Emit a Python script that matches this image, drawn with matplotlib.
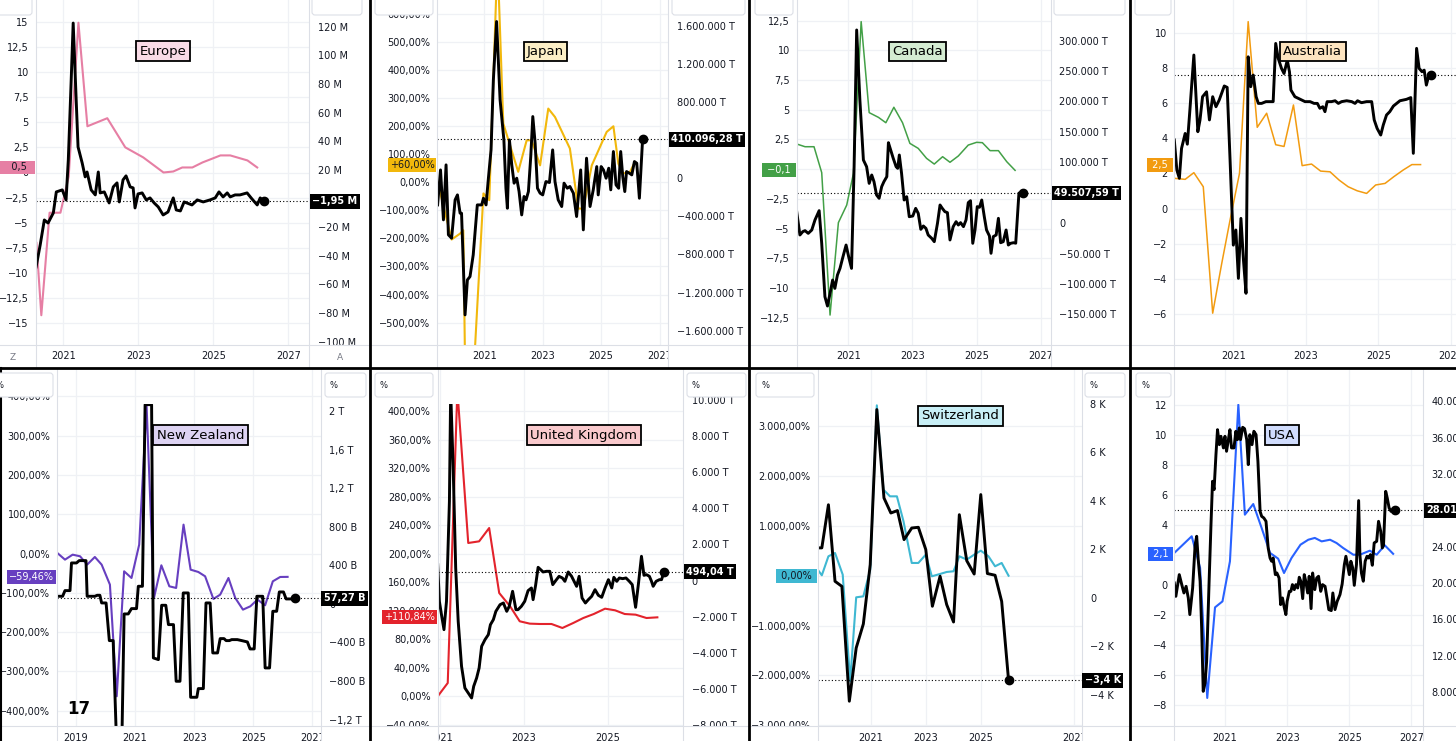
import numpy as np
import matplotlib.pyplot as plt
from matplotlib.lines import Line2D
from matplotlib.patches import FancyBboxPatch, Rectangle
from matplotlib.transforms import Bbox, TransformedBbox

# ---------------- data ----------------
# Europe: coloured = % (left), black = M (right)
eu_pct_t = [2020.28, 2020.41, 2020.63, 2020.92, 2021.14, 2021.40, 2021.64, 2022.17, 2022.65, 2023.13,
            2023.67, 2023.93, 2024.17, 2024.44, 2024.71, 2025.19, 2025.45, 2025.91, 2026.17]
eu_pct = [-7.0, -14.2, -4.0, -4.0, -0.4, 14.9, 4.6, 5.4, 2.5, 1.5,
          0.0, 0.1, 0.5, 0.5, 1.0, 1.7, 1.7, 1.2, 0.5]
eu_lvl_t = [2020.27, 2020.38, 2020.49, 2020.59, 2020.73, 2020.81, 2020.97, 2021.07, 2021.13, 2021.21,
            2021.26, 2021.34, 2021.39, 2021.50, 2021.58, 2021.63, 2021.74, 2021.85, 2021.93, 2021.98,
            2022.09, 2022.22, 2022.33, 2022.43, 2022.49, 2022.59, 2022.67, 2022.78, 2022.86, 2022.91,
            2022.99, 2023.10, 2023.21, 2023.31, 2023.42, 2023.53, 2023.66, 2023.79, 2023.93, 2024.01,
            2024.12, 2024.22, 2024.43, 2024.57, 2024.73, 2024.91, 2025.05, 2025.15, 2025.26, 2025.37,
            2025.45, 2025.58, 2025.71, 2025.90, 2026.03, 2026.17, 2026.25, 2026.35]
eu_lvl = [-47.8, -32.4, -15.0, -17.1, -10.1, 4.6, 6.0, -1.0, 26.9, 84.9,
          122.5, 68.8, 36.0, 24.8, 15.1, 18.5, 6.0, 2.5, 18.5, 3.9,
          4.6, -3.1, 8.1, 10.9, -2.4, 13.0, 15.8, 8.1, 7.4, -6.6,
          3.2, 3.9, -1.0, 0.4, -3.1, -5.9, -11.5, -9.4, 0.4, -8.0,
          -8.7, -2.4, -4.5, -1.0, -2.4, -1.0, 0.4, 4.6, 1.1, 3.9,
          1.1, 2.5, 2.5, 3.9, -0.3, -4.5, 0.4, -1.95]

# Japan: % (left), thousand T (right)
jp_pct_t = [2019.40, 2019.88, 2020.17, 2020.28, 2020.36, 2020.57, 2020.97, 2021.17, 2021.45, 2021.65,
            2022.16, 2022.45, 2022.62, 2022.91, 2023.19, 2023.42, 2023.93, 2024.22, 2024.39, 2024.68,
            2025.19, 2025.42, 2025.59, 2025.76, 2025.99, 2026.10]
jp_pct = [1, -204, -183, -171, -800, -800, -40, -64, 800, 209,
          37, 149, 149, 60, 262, 232, 120, -94, -94, 60,
          179, 199, 66, 31, 37, 60]
jp_lvl_t = [2019.40, 2019.50, 2019.60, 2019.69, 2019.77, 2019.88, 2020.00, 2020.08, 2020.17, 2020.22,
            2020.34, 2020.42, 2020.51, 2020.62, 2020.76, 2020.91, 2020.97, 2021.06, 2021.14, 2021.23,
            2021.31, 2021.42, 2021.54, 2021.67, 2021.74, 2021.79, 2021.86, 2021.94, 2022.02, 2022.11,
            2022.19, 2022.28, 2022.36, 2022.43, 2022.51, 2022.59, 2022.66, 2022.74, 2022.82, 2022.91,
            2023.00, 2023.11, 2023.23, 2023.34, 2023.42, 2023.53, 2023.65, 2023.73, 2023.84, 2023.93,
            2024.05, 2024.16, 2024.30, 2024.39, 2024.50, 2024.62, 2024.73, 2024.85, 2024.90, 2025.00,
            2025.08, 2025.17, 2025.26, 2025.33, 2025.42, 2025.51, 2025.60, 2025.67, 2025.74, 2025.81,
            2025.87, 2025.97, 2026.05, 2026.14, 2026.22, 2026.31, 2026.42]
jp_lvl = [-280, 87, -437, 140, -594, -629, -227, -175, -367, -367,
          -1434, -1067, -1032, -804, -280, -280, -210, -280, 0, 297,
          1032, 1644, 822, 402, -105, -315, 402, 140, -52, 0,
          -140, -385, -192, -227, -140, 227, 647, 367, -105, -157,
          -175, -35, -45, 297, -35, -227, -297, -52, -105, -87,
          -157, -402, 87, -542, 210, -297, -122, 122, -175, 122,
          87, 0, 105, -122, 280, -70, -105, 280, 17, -140,
          70, 52, 35, 175, 157, -210, 410.09628]

# Canada: % (left), thousand T (right)
ca_pct_t = [2019.39, 2019.65, 2019.93, 2020.17, 2020.43, 2020.69, 2020.95, 2021.16, 2021.40, 2021.65,
            2021.94, 2022.17, 2022.42, 2022.69, 2022.92, 2023.18, 2023.44, 2023.68, 2023.94, 2024.17,
            2024.43, 2024.74, 2025.00, 2025.18, 2025.42, 2025.68, 2025.94, 2026.20]
ca_pct = [2.12, 1.89, 1.89, -0.29, -12.28, -4.50, -3.02, -0.35, 12.42, 4.76,
          4.36, 3.91, 5.21, 3.91, 2.17, 1.75, 0.91, 0.43, 1.05, 0.58,
          1.11, 2.03, 2.26, 2.23, 1.56, 1.56, 0.63, -0.1]
ca_lvl_t = [2019.39, 2019.49, 2019.58, 2019.65, 2019.75, 2019.86, 2019.96, 2020.09, 2020.17, 2020.27,
            2020.35, 2020.43, 2020.51, 2020.58, 2020.66, 2020.74, 2020.82, 2020.93, 2021.01, 2021.10,
            2021.18, 2021.26, 2021.36, 2021.47, 2021.57, 2021.65, 2021.73, 2021.80, 2021.88, 2021.96,
            2022.04, 2022.11, 2022.20, 2022.25, 2022.32, 2022.40, 2022.49, 2022.54, 2022.59, 2022.66,
            2022.74, 2022.82, 2022.90, 2023.01, 2023.10, 2023.18, 2023.26, 2023.34, 2023.42, 2023.49,
            2023.60, 2023.68, 2023.78, 2023.86, 2023.93, 2024.01, 2024.09, 2024.17, 2024.27, 2024.36,
            2024.43, 2024.50, 2024.59, 2024.67, 2024.74, 2024.81, 2024.88, 2024.95, 2025.02, 2025.09,
            2025.16, 2025.24, 2025.31, 2025.40, 2025.45, 2025.52, 2025.61, 2025.68, 2025.75, 2025.83,
            2025.92, 2025.99, 2026.06, 2026.15, 2026.22, 2026.32, 2026.44]
ca_lvl = [18.9, -19.5, -14.0, -12.4, -16.8, -11.3, 5.2, 20.5, -33.3, -121.0,
          -136.3, -115.5, -93.6, -107.3, -85.4, -74.4, -57.9, -36.0, -55.2, -74.4,
          92.8, 317.6, 202.5, 103.8, 92.8, 65.4, 79.1, 68.2, 46.3, 40.8,
          60.0, 68.2, 76.4, 132.3, 120.3, 106.6, 92.8, 90.1, 112.0, 81.9,
          38.0, 43.5, 10.6, 11.7, 24.3, 16.1, -10.2, -4.7, -8.6, -19.5,
          -25.0, -30.5, -0.3, 29.8, 24.3, 18.9, 17.2, -27.7, -5.8, 2.4,
          -3.1, 0.8, -5.8, 5.2, 33.7, 36.9, -33.2, -11.3, 27.1, 26.0,
          38.0, 10.6, -11.3, -21.1, -49.6, -22.2, -19.5, 7.9, -32.2, -30.5,
          -11.3, -36.0, -33.2, -32.2, -33.0, 49.5, 49.50759]

# Australia: both series on the same scale
au_pct_t = [2019.37, 2019.67, 2019.91, 2020.17, 2020.43, 2020.68, 2020.91, 2021.17, 2021.41, 2021.66,
            2021.92, 2022.17, 2022.40, 2022.66, 2022.90, 2023.16, 2023.41, 2023.67, 2023.92, 2024.17,
            2024.42, 2024.68, 2024.93, 2025.19, 2025.43, 2025.69, 2025.93, 2026.17]
au_pct = [1.72, 1.66, 2.04, 1.24, -5.95, -3.12, -0.65, 2.0, 10.63, 4.62,
          5.42, 3.63, 3.53, 5.89, 2.44, 2.53, 2.13, 2.09, 1.62, 1.24,
          1.01, 0.86, 1.34, 1.43, 1.81, 2.19, 2.5, 2.5]
au_lvl_t = [2019.37, 2019.44, 2019.51, 2019.57, 2019.67, 2019.73, 2019.80, 2019.91, 2020.02, 2020.08,
            2020.15, 2020.26, 2020.34, 2020.43, 2020.52, 2020.61, 2020.75, 2020.83, 2020.91, 2021.00,
            2021.07, 2021.14, 2021.21, 2021.28, 2021.35, 2021.41, 2021.48, 2021.55, 2021.63, 2021.69,
            2021.78, 2021.90, 2022.10, 2022.17, 2022.24, 2022.33, 2022.40, 2022.49, 2022.55, 2022.59,
            2022.70, 2022.79, 2022.89, 2022.98, 2023.12, 2023.23, 2023.32, 2023.39, 2023.47, 2023.53,
            2023.59, 2023.71, 2023.81, 2023.90, 2023.99, 2024.13, 2024.27, 2024.36, 2024.43, 2024.54,
            2024.68, 2024.82, 2024.89, 2024.97, 2025.07, 2025.14, 2025.23, 2025.32, 2025.42, 2025.51,
            2025.60, 2025.69, 2025.78, 2025.90, 2025.97, 2026.06, 2026.13, 2026.21, 2026.27, 2026.33,
            2026.40, 2026.47]
au_lvl = [3.90, 2.19, 1.72, 3.42, 4.27, 3.66, 5.59, 8.73, 4.37, 5.04,
          6.36, 6.64, 5.04, 6.36, 5.79, 6.17, 6.97, 6.89, 2.76, -2.08,
          -1.22, -3.97, -0.56, -2.93, -4.82, 8.63, 6.93, 7.59, 6.36, 5.98,
          5.98, 6.08, 6.08, 9.39, 8.54, 7.97, 7.68, 8.44, 7.78, 6.74,
          6.36, 6.27, 6.17, 6.08, 6.08, 5.98, 5.98, 5.70, 5.79, 5.51,
          6.08, 6.08, 6.13, 5.98, 6.08, 6.13, 6.08, 5.98, 6.13, 6.02,
          6.08, 6.08, 5.04, 4.56, 4.18, 4.75, 5.32, 5.51, 5.83, 5.98,
          6.13, 6.17, 6.21, 6.31, 3.14, 9.11, 7.97, 7.78, 7.87, 7.02,
          7.59, 7.57]

# New Zealand: % (left), B (right)
nz_pct_t = [2018.37, 2018.63, 2018.89, 2019.14, 2019.38, 2019.64, 2019.87, 2020.15, 2020.38, 2020.63,
            2020.88, 2021.14, 2021.39, 2021.64, 2021.89, 2022.16, 2022.39, 2022.64, 2022.88, 2023.14,
            2023.37, 2023.65, 2023.88, 2024.16, 2024.39, 2024.65, 2024.90, 2025.14, 2025.40, 2025.66,
            2025.91, 2026.16]
nz_pct = [1.4, -15.6, -2.9, -7.1, -28.3, -8.8, -28.3, -79.2, -363.5, -45.3,
          -62.3, 22.6, 377.1, -113.2, -30.0, -83.5, -87.7, 73.5, -41.1, -47.0,
          -58.0, -115.7, -104.7, -62.3, -113.2, -142.9, -134.4, -117.4, -131.8, -70.8,
          -59.7, -59.46]
nz_lvl_t = [2018.37, 2018.55, 2018.63, 2018.80, 2018.85, 2019.02, 2019.11, 2019.34, 2019.38, 2019.64,
            2019.72, 2019.81, 2019.87, 2020.02, 2020.13, 2020.26, 2020.38, 2020.55, 2020.63, 2020.77,
            2020.88, 2021.05, 2021.11, 2021.25, 2021.34, 2021.56, 2021.62, 2021.79, 2021.90, 2022.04,
            2022.13, 2022.30, 2022.39, 2022.52, 2022.63, 2022.80, 2022.88, 2023.09, 2023.14, 2023.31,
            2023.40, 2023.54, 2023.63, 2023.79, 2023.88, 2024.01, 2024.08, 2024.19, 2024.27, 2024.46,
            2024.61, 2024.80, 2024.89, 2025.03, 2025.12, 2025.32, 2025.40, 2025.55, 2025.66, 2025.79,
            2025.88, 2026.02, 2026.11, 2026.36, 2026.42]
nz_lvl = [79.6, 79.6, 138.4, 138.4, 425.5, 425.5, 449.7, 449.7, 79.6, 79.6,
          89.9, 89.9, 10.4, 10.4, -380.5, -380.5, -1500, -1500, -103.8, -103.8,
          -48.4, -48.4, 183.4, 183.4, 2068.8, 2068.8, -560.4, -577.7, -13.8, -13.8,
          -214.5, -214.5, -802.6, -802.6, 114.2, 114.2, -968.7, -968.7, -878.7, -878.7,
          10.4, 10.4, -508.5, -508.5, -359.8, -359.8, -380.5, -380.5, -370.2, -370.2,
          -380.5, -394.4, -467.0, -467.0, 79.6, 79.6, -664.2, -664.2, -76.1, -76.1,
          124.5, 124.5, 51.9, 51.9, 57.27]

# United Kingdom: % (left), T (right)
uk_pct_t = [2020.94, 2021.18, 2021.41, 2021.67, 2021.93, 2022.17, 2022.41, 2022.67, 2022.90, 2023.14,
            2023.38, 2023.66, 2023.92, 2024.18, 2024.42, 2024.67, 2024.94, 2025.18, 2025.41, 2025.67,
            2025.93, 2026.19]
uk_pct = [0.0, 18.7, 430.0, 215.2, 217.5, 236.2, 145.0, 126.3, 105.3, 102.0,
          101.5, 101.5, 95.9, 102.9, 109.9, 115.5, 123.0, 120.7, 115.5, 114.6,
          109.9, 110.84]
uk_lvl_t = [2020.94, 2020.98, 2021.03, 2021.09, 2021.15, 2021.22, 2021.25, 2021.31, 2021.37, 2021.43,
            2021.51, 2021.59, 2021.67, 2021.75, 2021.80, 2021.87, 2021.93, 2021.99, 2022.07, 2022.15,
            2022.20, 2022.27, 2022.33, 2022.43, 2022.51, 2022.59, 2022.65, 2022.73, 2022.81, 2022.86,
            2022.94, 2023.02, 2023.10, 2023.18, 2023.22, 2023.28, 2023.34, 2023.40, 2023.46, 2023.54,
            2023.62, 2023.69, 2023.76, 2023.84, 2023.92, 2023.98, 2024.06, 2024.14, 2024.20, 2024.26,
            2024.32, 2024.39, 2024.47, 2024.54, 2024.62, 2024.70, 2024.78, 2024.86, 2024.94, 2025.02,
            2025.10, 2025.15, 2025.22, 2025.28, 2025.36, 2025.44, 2025.52, 2025.59, 2025.67, 2025.74,
            2025.81, 2025.87, 2025.93, 2026.00, 2026.05, 2026.09, 2026.16, 2026.24, 2026.29, 2026.35]
uk_lvl = [880, -1154, -1894, -2726, -1154, 4394, 10500, 6244, 695, -2264,
          -4761, -5963, -6241, -6518, -5871, -5409, -4854, -3652, -3282, -3004,
          -2450, -2172, -1710, -1340, -1247, -1710, -1432, -599, -1617, -1617,
          -1432, -1154, -562, -414, -1062, -266, 733, 604, 474, 511,
          511, -229, -7, 233, 141, -44, 474, 233, -44, -322,
          233, -969, -1247, -1062, -877, -507, -821, -932, -414, 48,
          -414, 178, -44, 141, 104, 141, -44, -229, -1487, -137,
          1343, 289, 326, 233, -44, -322, -44, 48, 48, 494.04]

# Switzerland: % (left), K (right)
ch_pct_t = [2019.07, 2019.22, 2019.46, 2019.70, 2019.98, 2020.25, 2020.47, 2020.73, 2020.98, 2021.22,
            2021.46, 2021.70, 2021.95, 2022.19, 2022.49, 2022.73, 2023.00, 2023.22, 2023.52, 2023.76,
            2024.01, 2024.22, 2024.49, 2024.76, 2025.00, 2025.28, 2025.52, 2025.76, 2026.01]
ch_pct = [122, 8, 390, 456, 21, -2121, -434, -414, 122, 3421,
          1728, 1594, 1594, 1092, 256, 256, 423, -12, 35, 75,
          89, 390, 323, 423, 503, 390, 189, 256, 0]
ch_lvl_t = [2019.07, 2019.22, 2019.46, 2019.70, 2019.95, 2020.22, 2020.47, 2020.73, 2020.98, 2021.22,
            2021.48, 2021.73, 2021.97, 2022.21, 2022.49, 2022.73, 2023.00, 2023.24, 2023.52, 2023.76,
            2024.01, 2024.22, 2024.49, 2024.76, 2025.00, 2025.24, 2025.52, 2025.76, 2026.01]
ch_lvl = [2.06, 2.06, 3.84, 0.68, 0.47, -4.27, -2.07, -1.08, 1.37, 7.77,
          4.12, 3.50, 3.60, 2.40, 2.88, 2.91, 1.99, -0.35, 0.89, -0.28,
          -1.00, 3.43, 1.53, 0.98, 4.26, 1.00, 0.93, -0.15, -3.4]

# USA: % (left), thousands (right)
us_pct_t = [2019.37, 2019.93, 2020.20, 2020.43, 2020.68, 2020.92, 2021.16, 2021.43, 2021.64, 2021.91,
            2022.18, 2022.45, 2022.71, 2022.90, 2023.14, 2023.43, 2023.68, 2023.89, 2024.11, 2024.38,
            2024.59, 2024.80, 2025.13, 2025.34, 2025.66, 2025.88, 2026.14, 2026.41]
us_pct = [2.16, 3.27, 1.16, -7.51, -1.47, -1.07, 1.60, 12.04, 4.71, 5.42,
          3.82, 2.16, 1.78, 0.82, 1.82, 2.71, 3.04, 3.16, 2.93, 3.04,
          2.82, 2.49, 2.04, 2.04, 2.31, 2.04, 2.67, 2.1]
us_lvl_t = [2019.37, 2019.42, 2019.53, 2019.61, 2019.68, 2019.75, 2019.82, 2019.87, 2019.96, 2020.04,
            2020.09, 2020.14, 2020.20, 2020.25, 2020.30, 2020.36, 2020.41, 2020.49, 2020.55, 2020.60,
            2020.65, 2020.71, 2020.76, 2020.82, 2020.87, 2020.95, 2021.00, 2021.05, 2021.11, 2021.16,
            2021.21, 2021.29, 2021.35, 2021.40, 2021.46, 2021.50, 2021.57, 2021.63, 2021.70, 2021.75,
            2021.80, 2021.87, 2021.93, 2022.00, 2022.06, 2022.13, 2022.18, 2022.25, 2022.32, 2022.39,
            2022.45, 2022.50, 2022.55, 2022.62, 2022.67, 2022.74, 2022.79, 2022.85, 2022.91, 2022.96,
            2023.00, 2023.07, 2023.12, 2023.17, 2023.23, 2023.28, 2023.34, 2023.39, 2023.44, 2023.50,
            2023.55, 2023.60, 2023.66, 2023.71, 2023.77, 2023.82, 2023.89, 2023.95, 2024.01, 2024.08,
            2024.14, 2024.22, 2024.29, 2024.34, 2024.42, 2024.47, 2024.54, 2024.61, 2024.70, 2024.77,
            2024.84, 2024.89, 2024.94, 2025.00, 2025.05, 2025.11, 2025.16, 2025.23, 2025.30, 2025.34,
            2025.39, 2025.45, 2025.51, 2025.57, 2025.62, 2025.68, 2025.74, 2025.80, 2025.88, 2025.94,
            2026.01, 2026.06, 2026.10, 2026.17, 2026.22, 2026.28, 2026.34, 2026.41, 2026.47]
us_lvl = [20.00, 18.53, 20.92, 19.82, 18.90, 19.63, 18.35, 16.52, 19.45, 24.22,
          25.14, 22.57, 20.19, 15.05, 8.07, 8.99, 11.38, 20.19, 26.42, 31.20,
          30.28, 34.13, 36.88, 35.23, 36.15, 34.87, 36.15, 34.50, 35.78, 36.88,
          34.87, 34.87, 36.70, 35.78, 37.07, 35.78, 37.14, 36.99, 35.78, 33.03,
          36.33, 35.23, 36.70, 36.33, 33.40, 27.89, 27.34, 27.16, 26.79, 23.86,
          22.75, 22.39, 22.75, 20.92, 21.10, 20.55, 17.62, 18.35, 17.25, 16.52,
          17.98, 19.08, 19.08, 19.82, 19.27, 19.82, 19.45, 20.63, 20.19, 18.28,
          20.92, 20.19, 18.90, 20.74, 17.18, 21.10, 19.27, 20.55, 20.74, 19.08,
          19.82, 19.63, 18.17, 17.07, 16.96, 18.90, 17.07, 17.98, 18.72, 19.89,
          22.02, 22.94, 22.02, 20.92, 22.39, 21.65, 19.74, 22.02, 29.07, 23.12,
          21.10, 20.19, 22.39, 22.94, 22.75, 23.12, 21.95, 24.41, 24.59, 26.79,
          25.69, 23.86, 24.15, 30.09, 29.36, 28.26, 27.89, 28.08, 28.012]

years4 = [2021, 2023, 2025, 2027]
year_labels4 = ['2021', '2023', '2025', '2027']

# ---------------- style ----------------
W, H = 1456, 741
INK = '#131722'
GRID = '#eff1f5'
EDGE = '#dcdfe6'
plt.rcParams['font.family'] = ['DejaVu Sans']

fig = plt.figure(figsize=(W / 100, H / 100), dpi=100)


def fx(x):
    return x / W


def fy(y):
    return 1 - y / H


def num(v, dec=0):
    s = f'{abs(v):,.{dec}f}'.replace(',', ' ').replace('.', ',').replace(' ', '.')
    return ('\u2212' if round(v, dec) < 0 else '') + s


def short(v):
    return num(v, 0 if float(v).is_integer() else 1)


def pct(v):
    return num(v, 2) + '%'


def signed_pct(v):
    return ('+' if v > 0 else '') + pct(v)


def unit(suffix, scale=1):
    return lambda v: '0' if v == 0 else num(v * scale) + suffix


def nz_right(v):
    if v == 0:
        return '0'
    if abs(v) >= 1000:
        return short(v / 1000) + ' T'
    return num(v) + ' B'


def fline(x0, y0, x1, y1, **kw):
    fig.add_artist(Line2D([fx(x0), fx(x1)], [fy(y0), fy(y1)],
                          transform=fig.transFigure, **kw))


def pbox(x, y, w, h, label=True):
    fig.add_artist(FancyBboxPatch((x / 100, (H - y - h) / 100), w / 100, h / 100,
                                  boxstyle='round,pad=0,rounding_size=0.03',
                                  transform=fig.dpi_scale_trans,
                                  fc='white', ec=EDGE, lw=0.8, zorder=5))
    if label:
        fig.text(fx(x + 5), fy(y + h / 2), '%', fontsize=6, color=INK,
                 va='center', zorder=6)


def panel(plot, frame, xlim, xticks, xlabels,
          ct, cv, color, clw, lylim, lticks, lfmt, ltag, tag_ink,
          bt, bv, rylim, rticks, rfmt, rtag,
          title, fill, tpos, clip_top=None):
    x0, y0, x1, y1 = plot
    pl, pt, pr, pb = frame
    ax = fig.add_axes((fx(x0), fy(y1), (x1 - x0) / W, (y1 - y0) / H))
    ax2 = ax.twinx()
    ax.set_xlim(*xlim)
    ax.set_ylim(*lylim)
    ax2.set_ylim(*rylim)
    ax.set_xticks(xticks, xlabels)
    ax.set_yticks(lticks, [lfmt(v) for v in lticks])
    ax2.set_yticks(rticks, [rfmt(v) for v in rticks])
    ax.grid(True, color=GRID, lw=0.9)
    ax.set_axisbelow(True)
    for a in (ax, ax2):
        for s in a.spines.values():
            s.set_visible(False)
        a.tick_params(length=0, labelsize=7, labelcolor=INK)
    ax.tick_params(axis='y', pad=5)
    ax2.tick_params(axis='y', pad=6)
    ax.tick_params(axis='x', pad=4.5)

    hclip = TransformedBbox(Bbox([[fx(x0), 0], [fx(x1), 1]]), fig.transFigure)
    vclip = TransformedBbox(Bbox([[0, fy(y1)], [1, fy(y0)]]), fig.transFigure)
    for t in ax.xaxis.get_major_ticks():
        t.label1.set_clip_box(hclip)
        t.label1.set_clip_on(True)
    for a in (ax, ax2):
        for t in a.yaxis.get_major_ticks():
            for lab in (t.label1, t.label2):
                lab.set_clip_box(vclip)
                lab.set_clip_on(True)

    c_line, = ax.plot(ct, cv, color=color, lw=clw)
    b_line, = ax2.plot(bt, bv, color='black', lw=2.1)
    ax2.axhline(bv[-1], color='black', lw=0.8, ls=(0, (1, 2)))
    ax2.plot(bt[-1], bv[-1], 'o', color='black', ms=6)
    if clip_top is not None:
        frac = (y1 - clip_top) / (y1 - y0)
        c_line.set_clip_path(Rectangle((0, 0), 1, frac, transform=ax.transAxes))
        b_line.set_clip_path(Rectangle((0, 0), 1, frac, transform=ax2.transAxes))

    fline(x0, pt, x0, pb, color=EDGE, lw=0.8)
    fline(x1, pt, x1, pb, color=EDGE, lw=0.8)
    fline(pl, y1, pr, y1, color=EDGE, lw=0.8)

    def ypix(v, lim):
        return y1 - (v - lim[0]) / (lim[1] - lim[0]) * (y1 - y0)

    fig.text(fx(x0 - 3), fy(ypix(cv[-1], lylim)), ltag(cv[-1]), ha='right', va='center',
             fontsize=7, color=tag_ink, zorder=6,
             bbox=dict(boxstyle='square,pad=0.2', fc=color, ec='none'))
    if rtag is not None:
        fig.text(fx(x1 + 3), fy(ypix(bv[-1], rylim)), rtag(bv[-1]), ha='left', va='center',
                 fontsize=7, color='white', fontweight='bold', zorder=6,
                 bbox=dict(boxstyle='square,pad=0.25', fc='black', ec='none'))
    fig.text(fx(tpos[0]), fy(tpos[1]), title, ha='center', va='center', fontsize=9.5,
             color='black', zorder=7,
             bbox=dict(boxstyle='square,pad=0.25', fc=fill, ec='black', lw=1.3))
    return ax, ax2


# ---------------- top row ----------------
panel((35.7, 0, 309.3, 345), (0, 0, 369, 367), (2020.26, 2027.56), years4, year_labels4,
      eu_pct_t, eu_pct, '#e67fa4', 1.5, (-17.16, 17.16), np.arange(-15, 15.1, 2.5), short,
      lambda v: '   ' + short(v) + '  ', INK,
      eu_lvl_t, eu_lvl, (-102.3, 138.6), np.arange(-100, 121, 20), unit(' M'),
      lambda v: num(v, 2) + ' M',
      'Europe', '#f9dbe6', (163, 51))

panel((437.3, 0, 668.3, 345), (370, 0, 749, 367), (2019.39, 2027.30), years4, year_labels4,
      jp_pct_t, jp_pct, '#f2b80c', 1.5, (-579.4, 648.4), np.arange(-500, 601, 100), pct,
      signed_pct, INK,
      jp_lvl_t, jp_lvl, (-1750, 1870), np.arange(-1600, 1601, 400), unit(' T', 1000),
      lambda v: num(v * 1000, 2) + ' T',
      'Japan', '#fcefc6', (545.5, 51.7))

panel((796.7, 0, 1051, 345), (750, 0, 1129, 367), (2019.39, 2027.32), years4, year_labels4,
      ca_pct_t, ca_pct, '#43a047', 1.1, (-14.80, 14.24), np.arange(-12.5, 12.6, 2.5), short,
      lambda v: ' ' + short(v) + ' ', 'white',
      ca_lvl_t, ca_lvl, (-200.4, 366.9), np.arange(-150, 301, 50), unit(' T', 1000),
      lambda v: num(v * 1000, 2) + ' T',
      'Canada', '#d4ecd2', (917.8, 51.7))

panel((1174.3, 0, 1463.3, 345), (1130, 0, 1456, 367), (2019.37, 2027.35), years4, year_labels4,
      au_pct_t, au_pct, '#f29b10', 1.1, (-7.76, 11.86), np.arange(-6, 11, 2), short,
      lambda v: ' ' + short(v) + ' ', 'white',
      au_lvl_t, au_lvl, (-7.76, 11.86), [], short, None,
      'Australia', '#fde4c0', (1312.8, 51.7))

# ---------------- bottom row ----------------
panel((57.3, 368, 320.7, 726.3), (0, 368, 369, 741), (2018.37, 2027.28),
      [2019, 2021, 2023, 2025, 2027], ['2019', '2021', '2023', '2025', '2027'],
      nz_pct_t, nz_pct, '#673fc0', 1.5, (-439.9, 472.3), np.arange(-400, 401, 100), pct,
      signed_pct, 'white',
      nz_lvl_t, nz_lvl, (-1270, 2449), np.arange(-1200, 2001, 400), nz_right,
      lambda v: num(v, 2) + ' B',
      'New Zealand', '#ddd3f3', (200.5, 435.2), clip_top=404)

panel((437.7, 368, 683.3, 726.3), (370, 368, 749, 741), (2020.94, 2026.81),
      [2021, 2023, 2025], ['2021', '2023', '2025'],
      uk_pct_t, uk_pct, '#e3232c', 1.5, (-42.1, 460.8), np.arange(-40, 401, 40), pct,
      signed_pct, 'white',
      uk_lvl_t, uk_lvl, (-8089, 11792), np.arange(-8000, 10001, 2000), unit(' T'),
      lambda v: num(v, 2) + ' T',
      'United Kingdom', '#f9c9cc', (583.8, 435.2), clip_top=404)

panel((817.7, 368, 1081.7, 726.3), (750, 368, 1129, 741), (2019.07, 2028.67),
      [2021, 2023, 2025, 2028.4], year_labels4,
      ch_pct_t, ch_pct, '#3fb8d2', 1.5, (-3024, 4171), np.arange(-3000, 3001, 1000), pct,
      lambda v: ' ' + signed_pct(v) + ' ', INK,
      ch_lvl_t, ch_lvl, (-5.306, 9.486), np.arange(-4, 9, 2), unit(' K'),
      lambda v: num(v, 1) + ' K',
      'Switzerland', '#c8eff6', (960.3, 415.8), clip_top=404)

panel((1174.3, 368, 1423.3, 726.3), (1130, 368, 1456, 741), (2019.37, 2027.38),
      years4, year_labels4,
      us_pct_t, us_pct, '#2962ff', 1.5, (-9.40, 14.49), np.arange(-8, 13, 2), short,
      lambda v: ' ' + short(v) + ' ', 'white',
      us_lvl_t, us_lvl, (4.22, 43.67), np.arange(8, 41, 4), lambda v: num(v * 1000) + '.000',
      lambda v: num(v * 1000) + '.000',
      'USA', '#d0dcfd', (1281.8, 435.2), clip_top=404)

# ---------------- chrome ----------------
for x, w in [(-5, 37), (312, 50), (375, 58), (672, 73), (755, 38), (1054, 71), (1135, 36)]:
    pbox(x, -12, w, 27, label=False)
for x, w in [(-10, 63), (325, 41), (375, 58), (687, 59), (756, 58), (1085, 40), (1136, 35)]:
    pbox(x, 373, w, 24)

fig.text(fx(13), fy(357), 'Z', fontsize=6.5, color='#787b86', ha='center', va='center')
fig.text(fx(340), fy(357), 'A', fontsize=6.5, color='#787b86', ha='center', va='center')
fig.text(fx(67), fy(709), '17', fontsize=12, fontweight='heavy', color='black',
         ha='left', va='center')

for x in (369.5, 749.5, 1129.5):
    fline(x, 0, x, H, color='black', lw=2)
fline(0, 367.5, W, 367.5, color='black', lw=2)
fline(0.8, 368, 0.8, H, color='black', lw=1.5)

fig.savefig('out.png', dpi=100, facecolor='white')
